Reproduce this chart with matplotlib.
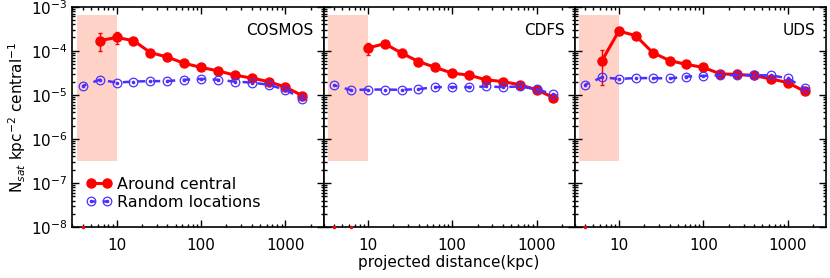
import numpy as np
import matplotlib
matplotlib.use('Agg')
import matplotlib.pyplot as plt
from matplotlib.lines import Line2D
from matplotlib.ticker import LogLocator, FixedLocator, FixedFormatter, NullFormatter

# radial bins (kpc)
r = 10 ** np.arange(0.6, 3.3, 0.2)

fields = ['COSMOS', 'CDFS', 'UDS']

# around central (0 -> below plot range, drawn on the axis)
red_cosmos = [0, 1.7e-4, 2.0e-4, 1.7e-4, 9.1e-5, 7.2e-5, 5.2e-5, 4.2e-5, 3.5e-5, 2.8e-5, 2.4e-5, 2.0e-5, 1.5e-5, 9.6e-6]
red_cdfs = [0, 0, 1.15e-4, 1.45e-4, 8.9e-5, 5.7e-5, 4.2e-5, 3.1e-5, 2.8e-5, 2.2e-5, 2.0e-5, 1.7e-5, 1.3e-5, 8.7e-6]
red_uds = [0, 6.0e-5, 2.8e-4, 2.2e-4, 9.1e-5, 6.0e-5, 4.9e-5, 4.2e-5, 3.0e-5, 2.9e-5, 2.75e-5, 2.3e-5, 1.9e-5, 1.2e-5]

# errors (lower / upper)
red_err_lo = {
    'COSMOS': [0, 7.0e-5, 5.5e-5, 1.0e-5, 5e-6, 3e-6, 2e-6, 1e-6, 1e-6, 1e-6, 1e-6, 1e-6, 5e-7, 4e-7],
    'CDFS': [0, 0, 3.5e-5, 1.5e-5, 5e-6, 3e-6, 2e-6, 1e-6, 1e-6, 1e-6, 1e-6, 1e-6, 5e-7, 4e-7],
    'UDS': [0, 4.3e-5, 3.0e-5, 1.5e-5, 5e-6, 3e-6, 2e-6, 1e-6, 1e-6, 1e-6, 1e-6, 1e-6, 5e-7, 4e-7],
}
red_err_hi = {
    'COSMOS': [0, 8.0e-5, 7.0e-5, 1.0e-5, 5e-6, 3e-6, 2e-6, 1e-6, 1e-6, 1e-6, 1e-6, 1e-6, 5e-7, 4e-7],
    'CDFS': [0, 0, 3.5e-5, 1.5e-5, 5e-6, 3e-6, 2e-6, 1e-6, 1e-6, 1e-6, 1e-6, 1e-6, 5e-7, 4e-7],
    'UDS': [0, 4.5e-5, 3.0e-5, 1.5e-5, 5e-6, 3e-6, 2e-6, 1e-6, 1e-6, 1e-6, 1e-6, 1e-6, 5e-7, 4e-7],
}

# random locations
blue_cosmos = [1.6e-5, 2.2e-5, 1.9e-5, 2.0e-5, 2.05e-5, 2.05e-5, 2.2e-5, 2.3e-5, 2.2e-5, 2.0e-5, 1.9e-5, 1.7e-5, 1.3e-5, 8.2e-6]
blue_cdfs = [1.66e-5, 1.28e-5, 1.32e-5, 1.32e-5, 1.3e-5, 1.35e-5, 1.5e-5, 1.5e-5, 1.5e-5, 1.55e-5, 1.5e-5, 1.55e-5, 1.35e-5, 1.02e-5]
blue_uds = [1.7e-5, 2.5e-5, 2.3e-5, 2.4e-5, 2.4e-5, 2.35e-5, 2.6e-5, 2.7e-5, 2.8e-5, 2.8e-5, 2.8e-5, 2.75e-5, 2.4e-5, 1.4e-5]

red_all = {'COSMOS': red_cosmos, 'CDFS': red_cdfs, 'UDS': red_uds}
blue_all = {'COSMOS': blue_cosmos, 'CDFS': blue_cdfs, 'UDS': blue_uds}

RED = '#ff0000'
BLUE = '#4a30ff'
SHADE = '#ffd2c8'
ymin, ymax = 1e-8, 1e-3
xmin, xmax = 3.0, 2830
FS = 11

plt.rcParams['font.family'] = 'DejaVu Sans'
fig, axes = plt.subplots(1, 3, figsize=(8.3, 2.78), dpi=100, sharey=True)
fig.subplots_adjust(left=0.0873, right=0.995, top=0.976, bottom=0.183, wspace=0)

for ax, name in zip(axes, fields):
    ax.set_xscale('log')
    ax.set_yscale('log')
    ax.set_xlim(xmin, xmax)
    ax.set_ylim(ymin, ymax)

    ax.fill_between([3.4, 10], 3.2e-7, 6.6e-4, color=SHADE, lw=0, zorder=0)

    red = np.array(red_all[name], dtype=float)
    ok = red > 0
    ax.errorbar(r[ok], red[ok],
                yerr=[np.array(red_err_lo[name])[ok], np.array(red_err_hi[name])[ok]],
                color=RED, lw=2.2, marker='o', ms=6.5, elinewidth=1.0, capsize=1.5, zorder=3)
    # bins with no signal sit on the bottom axis
    ax.plot(r[~ok], np.full((~ok).sum(), ymin), ls='none', marker='o', ms=1.5,
            color=RED, clip_on=False, zorder=5)

    blue = np.array(blue_all[name])
    ax.plot(r, blue, color=BLUE, lw=1.8, ls=(1.5, (3, 3)), marker='o', ms=6.2,
            mfc='none', mec=BLUE, mew=0.9, zorder=4)
    ax.plot(r, blue, ls='none', marker='o', ms=1.6, color=BLUE, zorder=4)

    ax.text(0.96, 0.89, name, transform=ax.transAxes, ha='right', va='center',
            fontsize=FS)

    ax.xaxis.set_major_locator(FixedLocator([10, 100, 1000]))
    ax.xaxis.set_major_formatter(FixedFormatter(['10', '100', '1000']))
    ax.xaxis.set_minor_locator(LogLocator(base=10, subs=np.arange(2, 10), numticks=20))
    ax.xaxis.set_minor_formatter(NullFormatter())
    ax.yaxis.set_major_locator(LogLocator(base=10, numticks=10))
    ax.yaxis.set_minor_locator(LogLocator(base=10, subs=np.arange(2, 10), numticks=20))
    ax.yaxis.set_minor_formatter(NullFormatter())
    ax.tick_params(which='both', direction='in', top=True, right=True, labelsize=FS, width=1.0)
    ax.tick_params(which='major', length=5)
    ax.tick_params(which='minor', length=2.5)
    ax.tick_params(axis='x', pad=8)
    for s in ax.spines.values():
        s.set_linewidth(1.2)

axes[0].set_ylabel('N$_{sat}$ kpc$^{-2}$ central$^{-1}$', fontsize=FS, labelpad=2)
axes[1].set_xlabel('projected distance(kpc)', fontsize=FS, labelpad=1)

h_red = Line2D([], [], color=RED, lw=2.2, marker='o', ms=6.5)
h_blue = Line2D([], [], color=BLUE, lw=1.8, ls=(1.5, (3, 3)), marker='o', ms=6.2, mfc='none', mew=0.9)
h_dot = Line2D([], [], ls='none', color=BLUE, marker='o', ms=1.6)
axes[0].legend([h_red, (h_blue, h_dot)], ['Around central', 'Random locations'],
               loc='lower left', bbox_to_anchor=(0.03, 0.05), frameon=False, numpoints=2,
               handlelength=1.6, handletextpad=0.3, labelspacing=0.2, borderaxespad=0,
               fontsize=11.5)

fig.savefig('out.png', dpi=100)
